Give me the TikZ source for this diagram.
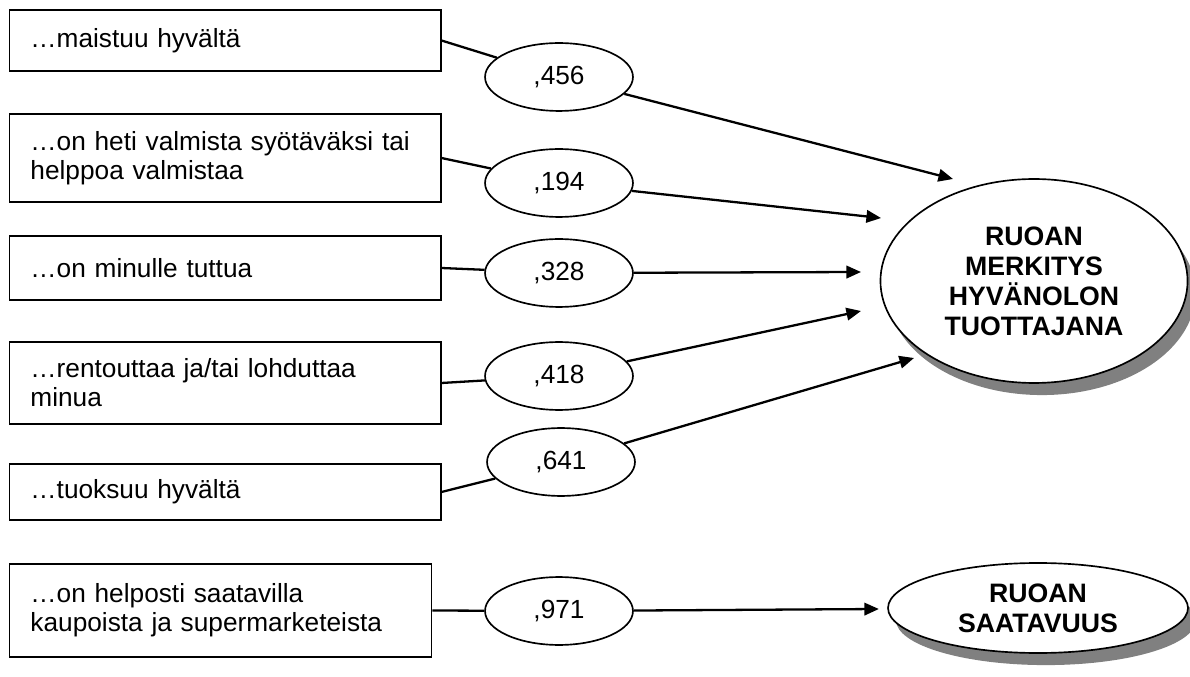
\documentclass[tikz,border=0pt]{standalone}
\usepackage{fontspec}
\setmainfont{Liberation Sans}
\usetikzlibrary{arrows.meta,shapes.geometric,shadows}
\definecolor{shadowgray}{HTML}{808080}
\begin{document}
\begin{tikzpicture}[x=0.48pt, y=-0.48pt,
  font=\fontsize{12.6pt}{14pt}\selectfont,
  itembox/.style={draw, line width=0.6pt, rectangle, anchor=west, align=left, inner xsep=10pt, inner ysep=0pt, text width=187pt},
  coef/.style={draw, line width=0.8pt, ellipse, inner sep=0pt, minimum width=71pt, minimum height=32.6pt},
  factor/.style={draw, line width=0.8pt, ellipse, inner sep=0pt, fill=white, align=center, font=\fontsize{12.8pt}{14.4pt}\selectfont\bfseries,
    drop shadow={shadow xshift=3.8pt, shadow yshift=-5.8pt, fill=shadowgray, opacity=1}},
  link/.style={line width=1.1pt},
  arrowlink/.style={line width=1.1pt, -{Triangle[length=7pt,width=6pt]}}]
\useasboundingbox (0,0) rectangle (1190,677);
\node[itembox, minimum height=29.3pt] (b1) at (9,40.5) {…maistuu hyvältä};
\node[itembox, minimum height=42.2pt] (b2) at (9,158) {…on heti valmista syötäväksi tai\\helppoa valmistaa};
\node[itembox, minimum height=30.7pt] (b3) at (9,268) {…on minulle tuttua};
\node[itembox, minimum height=39.4pt] (b4) at (9,383) {…rentouttaa ja/tai lohduttaa\\minua};
\node[itembox, minimum height=26.9pt] (b5) at (9,492) {…tuoksuu hyvältä};
\node[itembox, minimum height=44.6pt, text width=182.6pt] (b6) at (9,610.5) {…on helposti saatavilla\\kaupoista ja supermarketeista};
\node[coef] (e456) at (559,77) {,456};
\node[coef] (e194) at (559,183) {,194};
\node[coef] (e328) at (559,273) {,328};
\node[coef] (e418) at (559,376) {,418};
\node[coef] (e641) at (561,462) {,641};
\node[coef] (e971) at (559,611) {,971};
\node[factor, minimum width=147.4pt, minimum height=97.9pt] (wellbeing) at (1034,281) {RUOAN\\MERKITYS\\HYVÄNOLON\\TUOTTAJANA};
\node[factor, minimum width=144pt, minimum height=43.2pt] (access) at (1038,608) {RUOAN\\SAATAVUUS};
\coordinate (t456) at (953,179);
\coordinate (t194) at (881,218);
\coordinate (t328) at (861,272);
\coordinate (t418) at (861,311);
\coordinate (t641) at (914,358);
\draw[link] (b1.east) -- (e456);
\draw[link] (b2.east) -- (e194);
\draw[link] (b3.east) -- (e328);
\draw[link] (b4.east) -- (e418);
\draw[link] (b5.east) -- (e641);
\draw[link] (b6.east) -- (e971);
\draw[arrowlink] (e456) -- (t456);
\draw[arrowlink] (e194) -- (t194);
\draw[arrowlink] (e328) -- (t328);
\draw[arrowlink] (e418) -- (t418);
\draw[arrowlink] (e641) -- (t641);
\draw[arrowlink, shorten >=4pt] (e971) -- (access);
\end{tikzpicture}
\end{document}
